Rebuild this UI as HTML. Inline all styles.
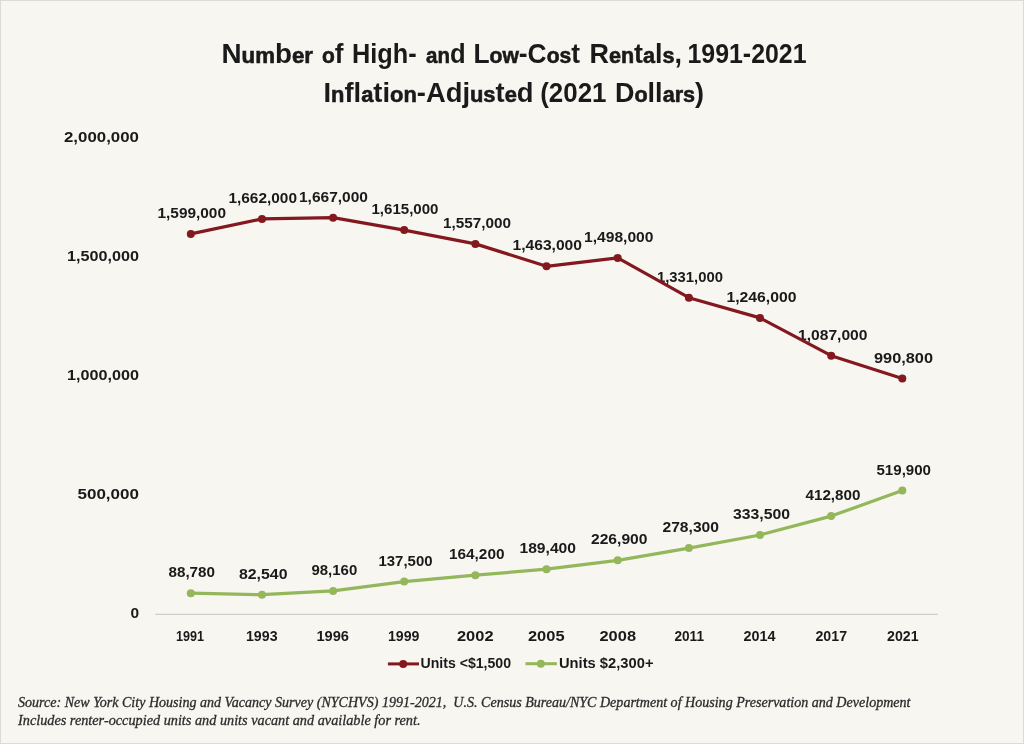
<!DOCTYPE html>
<html><head><meta charset="utf-8"><style>
html,body{margin:0;padding:0;background:#f7f6f1;}
body{width:1024px;height:744px;overflow:hidden;position:relative;}
svg{position:absolute;left:0;top:0;display:block;will-change:transform}
</style></head><body>
<svg width="1024" height="744" viewBox="0 0 1024 744">
<rect x="0" y="0" width="1024" height="744" fill="#f7f6f1"/>
<rect x="0.5" y="0.5" width="1023" height="743" fill="none" stroke="#dcdbd6" stroke-width="1"/>
<line x1="155.2" y1="614.35" x2="937.9" y2="614.35" stroke="#cfcec9" stroke-width="1.3"/>
<text x="221.47" y="63.00" textLength="91.53" lengthAdjust="spacingAndGlyphs" style="font-family:'Liberation Sans';font-weight:bold;font-style:normal;font-size:27.4px;fill:#1a1a1a">N<tspan style="font-size:21.92px;stroke:#1a1a1a;stroke-width:0.6px">um</tspan>b<tspan style="font-size:21.92px;stroke:#1a1a1a;stroke-width:0.6px">er</tspan></text>
<text x="321.98" y="63.00" textLength="21.52" lengthAdjust="spacingAndGlyphs" style="font-family:'Liberation Sans';font-weight:bold;font-style:normal;font-size:27.4px;fill:#1a1a1a"><tspan style="font-size:21.92px;stroke:#1a1a1a;stroke-width:0.6px">o</tspan>f</text>
<text x="351.93" y="63.00" textLength="64.64" lengthAdjust="spacingAndGlyphs" style="font-family:'Liberation Sans';font-weight:bold;font-style:normal;font-size:27.4px;fill:#1a1a1a">High-</text>
<text x="426.00" y="63.00" textLength="39.60" lengthAdjust="spacingAndGlyphs" style="font-family:'Liberation Sans';font-weight:bold;font-style:normal;font-size:27.4px;fill:#1a1a1a"><tspan style="font-size:21.92px;stroke:#1a1a1a;stroke-width:0.6px">an</tspan>d</text>
<text x="473.47" y="63.00" textLength="106.54" lengthAdjust="spacingAndGlyphs" style="font-family:'Liberation Sans';font-weight:bold;font-style:normal;font-size:27.4px;fill:#1a1a1a">L<tspan style="font-size:21.92px;stroke:#1a1a1a;stroke-width:0.6px">ow</tspan>-C<tspan style="font-size:21.92px;stroke:#1a1a1a;stroke-width:0.6px">os</tspan>t</text>
<text x="589.41" y="63.00" textLength="92.68" lengthAdjust="spacingAndGlyphs" style="font-family:'Liberation Sans';font-weight:bold;font-style:normal;font-size:27.4px;fill:#1a1a1a">R<tspan style="font-size:21.92px;stroke:#1a1a1a;stroke-width:0.6px">en</tspan>t<tspan style="font-size:21.92px;stroke:#1a1a1a;stroke-width:0.6px">a</tspan>l<tspan style="font-size:21.92px;stroke:#1a1a1a;stroke-width:0.6px">s</tspan>,</text>
<text x="687.48" y="63.00" textLength="119.04" lengthAdjust="spacingAndGlyphs" style="font-family:'Liberation Sans';font-weight:bold;font-style:normal;font-size:27.4px;fill:#1a1a1a">1991-2021</text>
<text x="323.47" y="102.20" textLength="210.07" lengthAdjust="spacingAndGlyphs" style="font-family:'Liberation Sans';font-weight:bold;font-style:normal;font-size:27.4px;fill:#1a1a1a">I<tspan style="font-size:21.92px;stroke:#1a1a1a;stroke-width:0.6px">n</tspan>fl<tspan style="font-size:21.92px;stroke:#1a1a1a;stroke-width:0.6px">a</tspan>ti<tspan style="font-size:21.92px;stroke:#1a1a1a;stroke-width:0.6px">on</tspan>-Adj<tspan style="font-size:21.92px;stroke:#1a1a1a;stroke-width:0.6px">us</tspan>t<tspan style="font-size:21.92px;stroke:#1a1a1a;stroke-width:0.6px">e</tspan>d</text>
<text x="540.23" y="102.20" textLength="66.30" lengthAdjust="spacingAndGlyphs" style="font-family:'Liberation Sans';font-weight:bold;font-style:normal;font-size:27.4px;fill:#1a1a1a">(2021</text>
<text x="614.94" y="102.20" textLength="89.11" lengthAdjust="spacingAndGlyphs" style="font-family:'Liberation Sans';font-weight:bold;font-style:normal;font-size:27.4px;fill:#1a1a1a">D<tspan style="font-size:21.92px;stroke:#1a1a1a;stroke-width:0.6px">o</tspan>ll<tspan style="font-size:21.92px;stroke:#1a1a1a;stroke-width:0.6px">ars</tspan>)</text>
<text x="130.45" y="617.80" textLength="8.63" lengthAdjust="spacingAndGlyphs" style="font-family:'Liberation Sans';font-weight:bold;font-style:normal;font-size:14.4px;fill:#1a1a1a">0</text>
<text x="77.48" y="498.80" textLength="61.53" lengthAdjust="spacingAndGlyphs" style="font-family:'Liberation Sans';font-weight:bold;font-style:normal;font-size:14.4px;fill:#1a1a1a">500,000</text>
<text x="66.99" y="379.80" textLength="72.02" lengthAdjust="spacingAndGlyphs" style="font-family:'Liberation Sans';font-weight:bold;font-style:normal;font-size:14.4px;fill:#1a1a1a">1,000,000</text>
<text x="66.99" y="260.85" textLength="72.02" lengthAdjust="spacingAndGlyphs" style="font-family:'Liberation Sans';font-weight:bold;font-style:normal;font-size:14.4px;fill:#1a1a1a">1,500,000</text>
<text x="63.99" y="141.60" textLength="75.02" lengthAdjust="spacingAndGlyphs" style="font-family:'Liberation Sans';font-weight:bold;font-style:normal;font-size:14.4px;fill:#1a1a1a">2,000,000</text>
<text x="175.97" y="640.80" textLength="28.05" lengthAdjust="spacingAndGlyphs" style="font-family:'Liberation Sans';font-weight:bold;font-style:normal;font-size:14.4px;fill:#1a1a1a">1991</text>
<text x="245.98" y="640.80" textLength="31.57" lengthAdjust="spacingAndGlyphs" style="font-family:'Liberation Sans';font-weight:bold;font-style:normal;font-size:14.4px;fill:#1a1a1a">1993</text>
<text x="316.45" y="640.80" textLength="32.58" lengthAdjust="spacingAndGlyphs" style="font-family:'Liberation Sans';font-weight:bold;font-style:normal;font-size:14.4px;fill:#1a1a1a">1996</text>
<text x="387.97" y="640.80" textLength="31.53" lengthAdjust="spacingAndGlyphs" style="font-family:'Liberation Sans';font-weight:bold;font-style:normal;font-size:14.4px;fill:#1a1a1a">1999</text>
<text x="456.97" y="640.80" textLength="36.57" lengthAdjust="spacingAndGlyphs" style="font-family:'Liberation Sans';font-weight:bold;font-style:normal;font-size:14.4px;fill:#1a1a1a">2002</text>
<text x="527.99" y="640.80" textLength="36.55" lengthAdjust="spacingAndGlyphs" style="font-family:'Liberation Sans';font-weight:bold;font-style:normal;font-size:14.4px;fill:#1a1a1a">2005</text>
<text x="599.47" y="640.80" textLength="36.55" lengthAdjust="spacingAndGlyphs" style="font-family:'Liberation Sans';font-weight:bold;font-style:normal;font-size:14.4px;fill:#1a1a1a">2008</text>
<text x="674.48" y="640.80" textLength="29.54" lengthAdjust="spacingAndGlyphs" style="font-family:'Liberation Sans';font-weight:bold;font-style:normal;font-size:14.4px;fill:#1a1a1a">2011</text>
<text x="743.49" y="640.80" textLength="32.01" lengthAdjust="spacingAndGlyphs" style="font-family:'Liberation Sans';font-weight:bold;font-style:normal;font-size:14.4px;fill:#1a1a1a">2014</text>
<text x="815.48" y="640.80" textLength="31.57" lengthAdjust="spacingAndGlyphs" style="font-family:'Liberation Sans';font-weight:bold;font-style:normal;font-size:14.4px;fill:#1a1a1a">2017</text>
<text x="887.00" y="640.80" textLength="31.53" lengthAdjust="spacingAndGlyphs" style="font-family:'Liberation Sans';font-weight:bold;font-style:normal;font-size:14.4px;fill:#1a1a1a">2021</text>
<text x="157.47" y="218.00" textLength="68.53" lengthAdjust="spacingAndGlyphs" style="font-family:'Liberation Sans';font-weight:bold;font-style:normal;font-size:14.2px;fill:#1a1a1a">1,599,000</text>
<text x="228.45" y="203.01" textLength="68.58" lengthAdjust="spacingAndGlyphs" style="font-family:'Liberation Sans';font-weight:bold;font-style:normal;font-size:14.2px;fill:#1a1a1a">1,662,000</text>
<text x="298.98" y="201.82" textLength="69.04" lengthAdjust="spacingAndGlyphs" style="font-family:'Liberation Sans';font-weight:bold;font-style:normal;font-size:14.2px;fill:#1a1a1a">1,667,000</text>
<text x="371.47" y="214.19" textLength="67.04" lengthAdjust="spacingAndGlyphs" style="font-family:'Liberation Sans';font-weight:bold;font-style:normal;font-size:14.2px;fill:#1a1a1a">1,615,000</text>
<text x="442.99" y="227.99" textLength="68.02" lengthAdjust="spacingAndGlyphs" style="font-family:'Liberation Sans';font-weight:bold;font-style:normal;font-size:14.2px;fill:#1a1a1a">1,557,000</text>
<text x="512.46" y="250.35" textLength="69.56" lengthAdjust="spacingAndGlyphs" style="font-family:'Liberation Sans';font-weight:bold;font-style:normal;font-size:14.2px;fill:#1a1a1a">1,463,000</text>
<text x="583.97" y="242.03" textLength="69.55" lengthAdjust="spacingAndGlyphs" style="font-family:'Liberation Sans';font-weight:bold;font-style:normal;font-size:14.2px;fill:#1a1a1a">1,498,000</text>
<text x="656.97" y="281.76" textLength="66.06" lengthAdjust="spacingAndGlyphs" style="font-family:'Liberation Sans';font-weight:bold;font-style:normal;font-size:14.2px;fill:#1a1a1a">1,331,000</text>
<text x="726.47" y="301.98" textLength="70.04" lengthAdjust="spacingAndGlyphs" style="font-family:'Liberation Sans';font-weight:bold;font-style:normal;font-size:14.2px;fill:#1a1a1a">1,246,000</text>
<text x="797.98" y="339.80" textLength="69.53" lengthAdjust="spacingAndGlyphs" style="font-family:'Liberation Sans';font-weight:bold;font-style:normal;font-size:14.2px;fill:#1a1a1a">1,087,000</text>
<text x="873.99" y="362.69" textLength="59.02" lengthAdjust="spacingAndGlyphs" style="font-family:'Liberation Sans';font-weight:bold;font-style:normal;font-size:14.2px;fill:#1a1a1a">990,800</text>
<text x="168.46" y="577.28" textLength="46.56" lengthAdjust="spacingAndGlyphs" style="font-family:'Liberation Sans';font-weight:bold;font-style:normal;font-size:14.2px;fill:#1a1a1a">88,780</text>
<text x="238.98" y="578.76" textLength="48.55" lengthAdjust="spacingAndGlyphs" style="font-family:'Liberation Sans';font-weight:bold;font-style:normal;font-size:14.2px;fill:#1a1a1a">82,540</text>
<text x="311.47" y="575.05" textLength="45.80" lengthAdjust="spacingAndGlyphs" style="font-family:'Liberation Sans';font-weight:bold;font-style:normal;font-size:14.2px;fill:#1a1a1a">98,160</text>
<text x="378.47" y="565.69" textLength="54.05" lengthAdjust="spacingAndGlyphs" style="font-family:'Liberation Sans';font-weight:bold;font-style:normal;font-size:14.2px;fill:#1a1a1a">137,500</text>
<text x="448.95" y="559.34" textLength="55.59" lengthAdjust="spacingAndGlyphs" style="font-family:'Liberation Sans';font-weight:bold;font-style:normal;font-size:14.2px;fill:#1a1a1a">164,200</text>
<text x="519.47" y="553.34" textLength="56.54" lengthAdjust="spacingAndGlyphs" style="font-family:'Liberation Sans';font-weight:bold;font-style:normal;font-size:14.2px;fill:#1a1a1a">189,400</text>
<text x="590.99" y="544.42" textLength="56.53" lengthAdjust="spacingAndGlyphs" style="font-family:'Liberation Sans';font-weight:bold;font-style:normal;font-size:14.2px;fill:#1a1a1a">226,900</text>
<text x="662.48" y="532.19" textLength="56.54" lengthAdjust="spacingAndGlyphs" style="font-family:'Liberation Sans';font-weight:bold;font-style:normal;font-size:14.2px;fill:#1a1a1a">278,300</text>
<text x="732.97" y="519.06" textLength="57.04" lengthAdjust="spacingAndGlyphs" style="font-family:'Liberation Sans';font-weight:bold;font-style:normal;font-size:14.2px;fill:#1a1a1a">333,500</text>
<text x="805.49" y="500.19" textLength="55.01" lengthAdjust="spacingAndGlyphs" style="font-family:'Liberation Sans';font-weight:bold;font-style:normal;font-size:14.2px;fill:#1a1a1a">412,800</text>
<text x="876.47" y="474.72" textLength="54.56" lengthAdjust="spacingAndGlyphs" style="font-family:'Liberation Sans';font-weight:bold;font-style:normal;font-size:14.2px;fill:#1a1a1a">519,900</text>
<text x="420.47" y="667.50" textLength="90.55" lengthAdjust="spacingAndGlyphs" style="font-family:'Liberation Sans';font-weight:bold;font-style:normal;font-size:15.5px;fill:#1a1a1a">Units &lt;$1,500</text>
<text x="558.99" y="667.50" textLength="94.52" lengthAdjust="spacingAndGlyphs" style="font-family:'Liberation Sans';font-weight:bold;font-style:normal;font-size:15.5px;fill:#1a1a1a">Units $2,300+</text>
<text x="18.00" y="707.10" textLength="892.50" lengthAdjust="spacingAndGlyphs" style="font-family:'Liberation Serif';font-weight:normal;font-style:italic;font-size:14.35px;fill:#2c2c2c;stroke:#2c2c2c;stroke-width:0.3px">Source: New York City Housing and Vacancy Survey (NYCHVS) 1991-2021, &#160;U.S. Census Bureau/NYC Department of Housing Preservation and Development</text>
<text x="18.00" y="725.10" textLength="402.50" lengthAdjust="spacingAndGlyphs" style="font-family:'Liberation Serif';font-weight:normal;font-style:italic;font-size:14.35px;fill:#2c2c2c;stroke:#2c2c2c;stroke-width:0.3px">Includes renter-occupied units and units vacant and available for rent.</text>
<polyline points="190.8,233.9 262.0,218.9 333.1,217.7 404.2,230.1 475.4,243.9 546.5,266.3 617.7,257.9 688.9,297.7 760.0,317.9 831.2,355.7 902.3,378.6" fill="none" stroke="#84181f" stroke-width="3.2" stroke-linejoin="round"/>
<circle cx="190.8" cy="233.9" r="4.0" fill="#84181f"/>
<circle cx="262.0" cy="218.9" r="4.0" fill="#84181f"/>
<circle cx="333.1" cy="217.7" r="4.0" fill="#84181f"/>
<circle cx="404.2" cy="230.1" r="4.0" fill="#84181f"/>
<circle cx="475.4" cy="243.9" r="4.0" fill="#84181f"/>
<circle cx="546.5" cy="266.3" r="4.0" fill="#84181f"/>
<circle cx="617.7" cy="257.9" r="4.0" fill="#84181f"/>
<circle cx="688.9" cy="297.7" r="4.0" fill="#84181f"/>
<circle cx="760.0" cy="317.9" r="4.0" fill="#84181f"/>
<circle cx="831.2" cy="355.7" r="4.0" fill="#84181f"/>
<circle cx="902.3" cy="378.6" r="4.0" fill="#84181f"/>
<polyline points="190.8,593.2 262.0,594.7 333.1,590.9 404.2,581.6 475.4,575.2 546.5,569.2 617.7,560.3 688.9,548.1 760.0,535.0 831.2,516.1 902.3,490.6" fill="none" stroke="#93b75a" stroke-width="3.2" stroke-linejoin="round"/>
<circle cx="190.8" cy="593.2" r="4.0" fill="#93b75a"/>
<circle cx="262.0" cy="594.7" r="4.0" fill="#93b75a"/>
<circle cx="333.1" cy="590.9" r="4.0" fill="#93b75a"/>
<circle cx="404.2" cy="581.6" r="4.0" fill="#93b75a"/>
<circle cx="475.4" cy="575.2" r="4.0" fill="#93b75a"/>
<circle cx="546.5" cy="569.2" r="4.0" fill="#93b75a"/>
<circle cx="617.7" cy="560.3" r="4.0" fill="#93b75a"/>
<circle cx="688.9" cy="548.1" r="4.0" fill="#93b75a"/>
<circle cx="760.0" cy="535.0" r="4.0" fill="#93b75a"/>
<circle cx="831.2" cy="516.1" r="4.0" fill="#93b75a"/>
<circle cx="902.3" cy="490.6" r="4.0" fill="#93b75a"/>
<line x1="387.9" y1="663.9" x2="419" y2="663.9" stroke="#84181f" stroke-width="3.0"/><circle cx="403.2" cy="663.9" r="4.0" fill="#84181f"/>
<line x1="525.5" y1="663.7" x2="556.9" y2="663.7" stroke="#93b75a" stroke-width="3.0"/><circle cx="540.8" cy="663.7" r="4.0" fill="#93b75a"/>
</svg>
</body></html>
